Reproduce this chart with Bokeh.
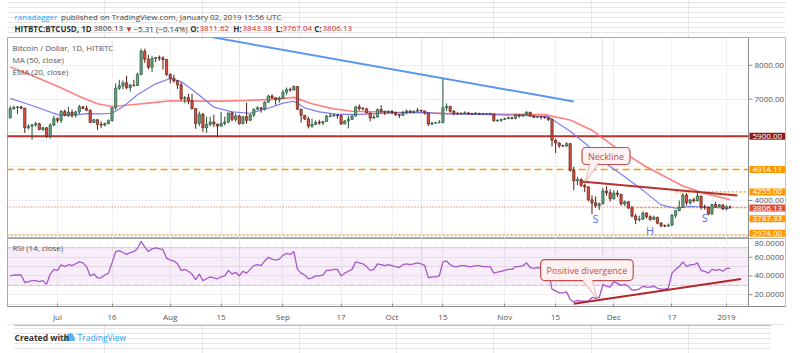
import pandas as pd
from bokeh.plotting import figure
from bokeh.layouts import column
from bokeh.models import (ColumnDataSource, Range1d, FixedTicker, Grid, Span, Label, LinearAxis,
                          BoxAnnotation, PolyAnnotation)
from bokeh.core.properties import value
from bokeh.embed import file_html
from bokeh.resources import INLINE

FONT = "Open Sans"
ORIGIN = pd.Timestamp("2018-07-01")


def to_day(d):
    return (pd.Timestamp(d) - ORIGIN) / pd.Timedelta(days=1)


# ---------------- data ----------------
candle_dates = pd.date_range("2018-06-18", "2019-01-02", freq="D")

opens = [6450, 6720, 6750, 6770, 6730, 6150, 6200, 6240, 6270, 6100, 6150, 5900, 6230,
         6420, 6370, 6630, 6520, 6610, 6540, 6620, 6770, 6720, 6670, 6310, 6390, 6250, 6230, 6270, 6360,
         6740, 7320, 7390, 7480, 7340, 7410, 7400, 7730, 8420, 8180, 7940, 8200, 8230, 8210, 8170,
         7730, 7610, 7540, 7420, 7010, 7040, 6950, 6720, 6280, 6550, 6150, 6250, 6320, 6260, 6200, 6280,
         6320, 6590, 6400, 6500, 6270, 6480, 6370, 6530, 6700, 6740, 6710, 6910, 7090, 7040, 6980,
         7020, 7200, 7280, 7270, 7370, 6700, 6520, 6410, 6200, 6250, 6310, 6290, 6340, 6490, 6500,
         6530, 6510, 6260, 6350, 6400, 6500, 6770, 6720, 6710, 6590, 6440, 6470, 6690, 6640, 6610,
         6640, 6600, 6540, 6520, 6600, 6650, 6610, 6640, 6670, 6650, 6590, 6260, 6290, 6300, 6310, 6740,
         6780, 6640, 6560, 6570, 6580, 6590, 6570, 6560, 6580, 6560, 6560, 6570, 6560, 6360, 6370,
         6400, 6420, 6450, 6430, 6530, 6500, 6540, 6610, 6500, 6460, 6480, 6470, 6450, 6400, 5780,
         5700, 5620, 5610, 5680, 4900, 4580, 4620, 4450, 4400, 4020, 3930, 3850, 3900, 4280, 4230,
         4050, 4220, 4180, 3900, 3960, 3780, 3540, 3430, 3450, 3630, 3520, 3440, 3500, 3330, 3260, 3240,
         3270, 3560, 3700, 3800, 4160, 3930, 4020, 3990, 4130, 3800, 3790, 3600, 3880, 3820, 3870,
         3750, 3811.62]
highs = [6800, 6810, 6790, 6800, 6740, 6250, 6260, 6330, 6300, 6180, 6170, 6290, 6510,
         6450, 6680, 6690, 6770, 6690, 6650, 6830, 6800, 6810, 6690, 6410, 6400, 6340, 6310, 6400, 6760,
         7460, 7570, 7550, 7690, 7450, 7570, 7770, 8490, 8490, 8310, 8280, 8240, 8290, 8270, 8180,
         7760, 7720, 7550, 7500, 7090, 7160, 7150, 6730, 6630, 6590, 6480, 6480, 6540, 6270, 6620, 6480,
         6600, 6630, 6570, 6540, 6490, 6890, 6570, 6720, 6790, 6770, 6930, 7130, 7140, 7060, 7080,
         7270, 7340, 7340, 7410, 7390, 6710, 6530, 6480, 6420, 6370, 6390, 6340, 6530, 6590, 6560,
         6540, 6530, 6380, 6510, 6530, 6790, 6840, 6770, 6740, 6600, 6530, 6720, 6820, 6650, 6660,
         6670, 6630, 6550, 6650, 6690, 6660, 6660, 6740, 6680, 6650, 6590, 6330, 6320, 6380, 7590, 6870,
         6800, 6680, 6620, 6600, 6640, 6620, 6590, 6620, 6590, 6590, 6590, 6590, 6570, 6400, 6420,
         6450, 6480, 6460, 6560, 6550, 6560, 6640, 6620, 6520, 6490, 6500, 6490, 6460, 6420, 5830,
         5720, 5650, 5720, 5700, 5000, 4700, 4660, 4500, 4430, 4150, 4120, 3940, 4370, 4420, 4330,
         4300, 4300, 4200, 4000, 3980, 3840, 3600, 3550, 3680, 3650, 3560, 3550, 3520, 3360, 3290, 3320,
         3600, 3720, 4000, 4220, 4220, 4030, 4080, 4250, 4140, 3880, 3840, 3900, 3960, 3900, 3880,
         3860, 3843.38]
lows = [6420, 6680, 6560, 6700, 6000, 6100, 5800, 6180, 6080, 6050, 5850, 5830, 6200,
        6300, 6290, 6490, 6470, 6450, 6450, 6560, 6700, 6650, 6290, 6290, 6090, 6140, 6190, 6260, 6340,
        6680, 7270, 7290, 7290, 7220, 7370, 7390, 7700, 8070, 7880, 7800, 8090, 8130, 7870, 7690,
        7460, 7480, 7300, 6950, 6880, 6850, 6690, 6120, 6200, 6030, 6000, 6200, 6170, 5880, 6180, 6220,
        6290, 6340, 6330, 6250, 6260, 6270, 6360, 6460, 6680, 6600, 6660, 6890, 6990, 6830, 6890,
        7000, 7130, 7220, 7250, 6680, 6300, 6380, 6130, 6150, 6240, 6240, 6230, 6330, 6460, 6480,
        6420, 6240, 6260, 6130, 6380, 6490, 6660, 6670, 6580, 6340, 6410, 6450, 6590, 6530, 6560,
        6550, 6500, 6440, 6500, 6550, 6580, 6570, 6610, 6610, 6540, 6200, 6230, 6270, 6280, 6280, 6650,
        6600, 6530, 6530, 6540, 6560, 6540, 6530, 6540, 6530, 6530, 6540, 6550, 6330, 6330, 6330,
        6380, 6410, 6400, 6400, 6450, 6480, 6530, 6480, 6440, 6440, 6400, 6420, 6350, 5600, 5400,
        5560, 5580, 5590, 4850, 4300, 4450, 4400, 4250, 3980, 3600, 3780, 3720, 3890, 4140, 3970,
        4030, 4100, 3850, 3840, 3750, 3500, 3300, 3380, 3430, 3470, 3400, 3430, 3300, 3200, 3210, 3230,
        3250, 3480, 3680, 3780, 3850, 3880, 3940, 3980, 3730, 3730, 3560, 3580, 3780, 3800, 3720,
        3710, 3767.04]
closes = [6720, 6750, 6770, 6730, 6150, 6200, 6240, 6270, 6100, 6150, 5900, 6230, 6420,
          6370, 6630, 6520, 6610, 6540, 6620, 6770, 6720, 6670, 6310, 6390, 6250, 6230, 6270, 6360, 6740,
          7320, 7390, 7480, 7340, 7410, 7400, 7730, 8420, 8180, 7940, 8200, 8230, 8210, 8170, 7730,
          7610, 7540, 7420, 7010, 7040, 6950, 6720, 6280, 6550, 6150, 6250, 6320, 6260, 6200, 6280, 6320,
          6590, 6400, 6500, 6270, 6480, 6370, 6530, 6700, 6740, 6710, 6910, 7090, 7040, 6980, 7020,
          7200, 7280, 7270, 7370, 6700, 6520, 6410, 6200, 6250, 6310, 6290, 6340, 6490, 6500, 6530,
          6510, 6260, 6350, 6400, 6500, 6770, 6720, 6710, 6590, 6440, 6470, 6690, 6640, 6610, 6640,
          6600, 6540, 6520, 6600, 6650, 6610, 6640, 6670, 6650, 6590, 6260, 6290, 6300, 6310, 6740, 6780,
          6640, 6560, 6570, 6580, 6590, 6570, 6560, 6580, 6560, 6560, 6570, 6560, 6360, 6370, 6400,
          6420, 6450, 6430, 6530, 6500, 6540, 6610, 6500, 6460, 6480, 6470, 6450, 6400, 5780, 5700,
          5620, 5610, 5680, 4900, 4580, 4620, 4450, 4400, 4020, 3930, 3850, 3900, 4280, 4230, 4050,
          4220, 4180, 3900, 3960, 3780, 3540, 3430, 3450, 3630, 3520, 3440, 3500, 3330, 3260, 3240, 3270,
          3560, 3700, 3800, 4160, 3930, 4020, 3990, 4130, 3800, 3790, 3600, 3880, 3820, 3870, 3750,
          3811.62, 3806.13]

rsi_values = [40, 41, 41, 41, 33, 34, 35, 35, 34, 35, 31, 42, 47,
              46, 52, 50, 52, 51, 53, 55, 54, 50, 40, 42, 38, 38, 41, 43, 54, 66, 67, 65, 63, 65, 66, 69, 77,
              71, 66, 69, 70, 69, 68, 59,
              57, 56, 53, 46, 47, 45, 42, 36, 42, 35, 37, 39, 38, 37, 39, 40, 46, 42, 44, 40, 45, 43, 47, 51,
              52, 51, 56, 60, 58, 57, 58,
              62, 64, 63, 66, 47, 43, 41, 37, 38, 40, 40, 41, 46, 46, 47, 47, 40, 43, 45, 47, 55, 54, 53, 50,
              46, 47, 53, 52, 51, 52,
              51, 50, 49, 52, 53, 52, 53, 54, 53, 51, 38, 39, 39, 40, 55, 56, 52, 50, 50, 51, 51, 50, 50, 51,
              51, 50, 50, 50, 43, 44, 45,
              46, 47, 47, 50, 50, 51, 54, 49, 48, 49, 48, 48, 46, 26, 24, 22, 22, 23, 15, 12, 14, 13, 13, 13,
              17, 16, 17, 31, 29, 28,
              34, 32, 30, 31, 29, 25, 25, 26, 29, 28, 28, 29, 27, 26, 26, 27, 43, 47, 50, 55, 50, 52, 52, 54,
              46, 45, 43, 47, 46, 47, 45,
              48, 48]

ma50_dates = ["2018-06-18", "2018-06-24", "2018-07-01", "2018-07-08", "2018-07-12", "2018-07-16",
              "2018-07-22", "2018-07-26", "2018-08-01", "2018-08-08", "2018-08-15", "2018-08-22",
              "2018-08-29", "2018-09-04", "2018-09-09", "2018-09-15", "2018-09-20", "2018-10-01",
              "2018-10-15", "2018-11-01", "2018-11-12", "2018-11-19", "2018-11-25", "2018-12-01",
              "2018-12-10", "2018-12-20", "2018-12-26", "2019-01-02"]
ma50_values = [7950, 7700, 7380, 7030, 6860, 6780, 6840, 6880, 6950, 6940, 6940, 6960, 6990, 7050,
               6860, 6710, 6640, 6610, 6580, 6550, 6540, 6380, 6080, 5600, 4990, 4430, 4210, 4020]

ema20_dates = ["2018-06-18", "2018-06-24", "2018-07-01", "2018-07-05", "2018-07-09", "2018-07-13",
               "2018-07-16", "2018-07-19", "2018-07-23", "2018-07-28", "2018-08-01", "2018-08-04",
               "2018-08-08", "2018-08-13", "2018-08-18", "2018-08-23", "2018-08-28", "2018-09-01",
               "2018-09-04", "2018-09-07", "2018-09-11", "2018-09-16", "2018-09-22", "2018-10-01",
               "2018-10-10", "2018-10-15", "2018-10-25", "2018-11-05", "2018-11-13", "2018-11-19",
               "2018-11-24", "2018-11-29", "2018-12-04", "2018-12-09", "2018-12-14", "2018-12-18",
               "2018-12-22", "2018-12-27", "2019-01-02"]
ema20_values = [7020, 6810, 6540, 6520, 6570, 6560, 6580, 6770, 7130, 7450, 7610, 7520, 7200, 6760,
                6620, 6580, 6730, 6880, 6935, 6740, 6620, 6550, 6550, 6590, 6610, 6560, 6550, 6520,
                6480, 6050, 5610, 5080, 4700, 4300, 3870, 3770, 3830, 3800, 3770]

tick_dates = ["2018-07-01", "2018-07-16", "2018-08-01", "2018-08-15", "2018-09-01", "2018-09-17",
              "2018-10-01", "2018-10-15", "2018-11-01", "2018-11-15", "2018-12-01", "2018-12-17",
              "2019-01-01"]
tick_labels = ["Jul", "16", "Aug", "15", "Sep", "17", "Oct", "15", "Nov", "15", "Dec", "17", "2019"]

price_grid = [3000, 4000, 5000, 6000, 7000, 8000]
price_ticks = [4000, 7000, 8000]
price_tick_labels = ["4000.00", "7000.00", "8000.00"]
rsi_ticks = [20, 40, 60, 80]
rsi_tick_labels = ["20.0000", "40.0000", "60.0000", "80.0000"]

level_prices = [5900.00, 4914.11, 4255.00, 3806.13, 3787.33, 2974.00]
level_labels = ["5900.00", "4914.11", "4255.00", "3806.13", "3787.33", "2974.00"]
level_starts = ["2018-06-17", "2018-06-17", "2018-12-18", "2018-06-17", "2018-12-05", "2018-06-17"]
level_colors = ["#b5322f", "#ff9800", "#ff9800", "#e0533d", "#ff9800", "#ff9800"]
level_box_colors = ["#8e1b1b", "#ff9800", "#ff9800", "#e0533d", "#ff9800", "#ff9800"]
level_dashes = ["solid", "7 4", "2 2", "1 2", "2 2", "2 2"]
level_widths = [2, 1.5, 1.2, 1, 1.2, 1.2]
level_label_shift = [0, 0, 0, -1, -11, 2]

trend_dates = ["2018-08-12", "2018-11-20"]
trend_prices = [8840, 6928]
neck_dates = ["2018-11-22", "2019-01-04"]
neck_prices = [4560, 4150]
div_dates = ["2018-11-20", "2019-01-05"]
div_rsi = [10.2, 36.8]

shs_text = ["S", "H", "S"]
shs_dates = ["2018-11-26", "2018-12-11", "2018-12-26"]
shs_prices = [3467, 3112, 3497]

# ---------------- layout constants ----------------
X0, X_AXIS, X_END = -13.75, 190.04, 200.22
P0, P1 = 2876, 8821
R0, R1 = 7.37, 80.0
GRID = "#efefef"
TXT = "#555555"
BORDER = "#a8a8a8"
AXIS = "#8c8c8c"

days = [to_day(d) for d in candle_dates]
up = [c >= o for o, c in zip(opens, closes)]
src = ColumnDataSource(dict(
    x=days, low=lows, high=highs,
    top=[max(o, c) for o, c in zip(opens, closes)],
    bottom=[min(o, c) for o, c in zip(opens, closes)],
    fill=["#6ba583" if u else "#d75442" for u in up],
    line=["#225437" if u else "#5b1a13" for u in up],
))
tick_days = [to_day(d) for d in tick_dates]


def base_fig(height, y_range, bottom=0, outline=BORDER):
    f = figure(width=800, height=height, x_range=Range1d(X0, X_END), y_range=y_range,
               output_backend="svg", toolbar_location=None, title=None,
               x_axis_location=None, y_axis_location=None,
               min_border_left=7, min_border_right=15, min_border_top=0, min_border_bottom=bottom,
               background_fill_color="white", border_fill_color="white", outline_line_color=outline)
    return f


def right_scale(f, ticks, labels, shifts):
    """price-scale strip at the right edge of the pane (TradingView style)"""
    f.add_layout(BoxAnnotation(left=X_AXIS, fill_color="white", fill_alpha=1.0, line_alpha=0,
                               level="underlay"))
    f.add_layout(Span(location=X_AXIS, dimension="height", line_color=AXIS, line_width=1))
    f.ray(x=[X_AXIS] * len(ticks), y=ticks, length=4, length_units="screen", angle=0,
          line_color=AXIS, line_width=1)
    f.text(x=[X_AXIS] * len(ticks), y=ticks, text=labels, x_offset=6, y_offset=shifts,
           text_baseline="middle", text_font=value(FONT), text_font_size=value("8px"), text_color=TXT)


def callout(fig, text, cx, cy, base, base_y, tip, size, pad):
    fig.add_layout(Label(x=cx, y=cy, text=text, text_font=FONT, text_font_size=size,
                         text_color="#c0504d", text_align="center", text_baseline="middle",
                         background_fill_color="#fdf1f1", background_fill_alpha=1.0,
                         border_line_color="#c0504d", border_line_width=1.2,
                         padding=pad, border_radius=4))
    fig.add_layout(PolyAnnotation(xs=[base[0], base[1], tip[0]], ys=[base_y, base_y, tip[1]],
                                  fill_color="#fdf1f1", fill_alpha=1.0, line_alpha=0))
    for bx in base:
        fig.add_layout(PolyAnnotation(xs=[bx, tip[0]], ys=[base_y, tip[1]], fill_alpha=0,
                                      line_color="#c0504d", line_width=1.2))


# ---------------- header ----------------
hd = figure(width=800, height=37, x_range=Range1d(0, 800), y_range=Range1d(0, 37),
            output_backend="svg", toolbar_location=None, title=None,
            x_axis_location=None, y_axis_location=None, min_border=0,
            outline_line_color=None, background_fill_color="white", border_fill_color="white")
header1 = [("ranadagger", 7, "#2ea3f2", "normal"),
           ("published on TradingView.com, January 02, 2019 15:56 UTC", 53.5, "#444444", "normal")]
header2 = [("HITBTC:BTCUSD, 1D", 7, "#333333", "bold"), ("3806.13", 86, "#333333", "normal"),
           ("\u25bc", 117.5, "#d12b2b", "normal"), ("\u22125.31 (\u22120.14%)", 126, "#333333", "normal"),
           ("O:", 182.7, "#333333", "bold"), ("3811.62", 192, "#d12b2b", "normal"),
           ("H:", 225.7, "#333333", "bold"), ("3843.38", 235, "#d12b2b", "normal"),
           ("L:", 268.3, "#333333", "bold"), ("3767.04", 275, "#d12b2b", "normal"),
           ("C:", 306.7, "#333333", "bold"), ("3806.13", 315, "#d12b2b", "normal")]
for (txt, xx, col, wt), yy in [(h, 21) for h in header1] + [(h, 9) for h in header2]:
    hd.add_layout(Label(x=xx, y=yy, x_units="screen", y_units="screen", text=txt, text_font=FONT,
                        text_font_size="8px", text_color=col, text_font_style=wt,
                        text_baseline="middle"))

# ---------------- price pane ----------------
pp = base_fig(201, Range1d(P0, P1))
pp.add_layout(Grid(dimension=1, ticker=FixedTicker(ticks=price_grid), grid_line_color=GRID))
pp.add_layout(Grid(dimension=0, ticker=FixedTicker(ticks=tick_days), grid_line_color=GRID))
right_scale(pp, price_ticks, price_tick_labels, [0] * len(price_ticks))

for lp, ls, lc, ld, lw in zip(level_prices, level_starts, level_colors, level_dashes, level_widths):
    pp.segment(x0=[to_day(ls)], y0=[lp], x1=[X_AXIS], y1=[lp], line_color=lc, line_dash=ld, line_width=lw)

pp.line([to_day(d) for d in trend_dates], trend_prices, line_color="#5b95ee", line_width=2)
pp.line([to_day(d) for d in ma50_dates], ma50_values, line_color="#ff6b6b", line_width=1.6, line_alpha=0.85)
pp.line([to_day(d) for d in ema20_dates], ema20_values, line_color="#6f6ff2", line_width=1.2, line_alpha=0.9)

pp.segment(x0="x", y0="low", x1="x", y1="high", line_color="line", line_width=1, source=src)
pp.vbar(x="x", width=0.62, top="top", bottom="bottom", fill_color="fill", line_color="line",
        line_width=0.7, source=src)

pp.line([to_day(d) for d in neck_dates], neck_prices, line_color="#b5332e", line_width=2)

for t, d, prc in zip(shs_text, shs_dates, shs_prices):
    pp.add_layout(Label(x=to_day(d), y=prc, text=t, text_font=FONT, text_font_size="11px",
                        text_color="#5d6fe6", text_align="center", text_baseline="middle"))

callout(pp, "Neckline", to_day("2018-11-28") + 0.85, 5316,
        (to_day("2018-11-24") + 0.4, to_day("2018-11-26") + 0.9), 5110,
        (to_day("2018-11-22") + 1.2, 4541), "9px", dict(x=6, y=2))

for lp, lt, bc, sh in zip(level_prices, level_labels, level_box_colors, level_label_shift):
    pp.add_layout(Label(x=X_AXIS, x_offset=1, y=lp, y_offset=sh, text=lt, text_font=FONT,
                        text_font_size="8px", text_color="white", text_align="left",
                        text_baseline="middle", background_fill_color=bc, background_fill_alpha=1.0,
                        padding=dict(x=3, y=1)))

for txt, yy in zip(["Bitcoin / Dollar, 1D, HITBTC", "MA (50, close)", "EMA (20, close)"], [191, 179, 167]):
    pp.add_layout(Label(x=5, y=yy, x_units="screen", y_units="screen", text=txt, text_font=FONT,
                        text_font_size="8px", text_color="#555555", text_baseline="middle"))

# ---------------- RSI pane ----------------
pr = base_fig(86, Range1d(R0, R1), bottom=17)
pr.add_layout(Grid(dimension=1, ticker=FixedTicker(ticks=rsi_ticks), grid_line_color=GRID))
pr.add_layout(Grid(dimension=0, ticker=FixedTicker(ticks=tick_days), grid_line_color=GRID))
xa = LinearAxis(ticker=FixedTicker(ticks=tick_days),
                major_label_overrides={t: lab for t, lab in zip(tick_days, tick_labels)},
                major_label_text_font=FONT, major_label_text_font_size="8px",
                major_label_text_color=TXT, axis_line_color=AXIS, major_tick_line_color=AXIS,
                minor_tick_line_color=None, major_tick_out=0, major_tick_in=3,
                major_label_standoff=4)
pr.add_layout(xa, "below")

pr.add_layout(BoxAnnotation(bottom=30, top=70, right=X_AXIS, fill_color="#9c27b0", fill_alpha=0.08,
                            line_alpha=0, level="underlay"))
right_scale(pr, rsi_ticks, rsi_tick_labels, [0, 0, 0, 5])
for lv in (70, 30):
    pr.segment(x0=[X0], y0=[lv], x1=[X_AXIS], y1=[lv], line_color="#c4c4c4", line_dash="4 3", line_width=1)
pr.line(days, rsi_values, line_color="#aa55cc", line_width=1.3)
pr.line([to_day(d) for d in div_dates], div_rsi, line_color="#b3262a", line_width=2)

callout(pr, "Positive divergence", to_day("2018-11-24") - 0.4, 46.3,
        (to_day("2018-11-22") + 0.4, to_day("2018-11-25") + 0.1), 35.6,
        (to_day("2018-11-26") + 0.5, 14.7), "9px", dict(x=6, y=4))

pr.add_layout(Label(x=5, y=58.7, x_units="screen", y_units="screen", text="RSI (14, close)",
                    text_font=FONT, text_font_size="8px", text_color="#555555", text_baseline="middle"))

# ---------------- footer ----------------
ft = figure(width=800, height=29, x_range=Range1d(0, 800), y_range=Range1d(0, 29),
            output_backend="svg", toolbar_location=None, title=None,
            x_axis_location=None, y_axis_location=None, min_border=0,
            outline_line_color=None, background_fill_color="white", border_fill_color="white")
ft.add_layout(Span(location=28.5, dimension="width", line_color=BORDER, line_width=1.5))
ft.add_layout(BoxAnnotation(right=7, fill_color="white", fill_alpha=1.0, line_alpha=0))
ft.add_layout(BoxAnnotation(left=785, fill_color="white", fill_alpha=1.0, line_alpha=0))
ft.add_layout(Label(x=7, y=16, x_units="screen", y_units="screen", text="Created with",
                    text_font=FONT, text_font_size="8.5px", text_font_style="bold", text_color="#333333",
                    text_baseline="middle"))
# small cloud-shaped TradingView logo
ft.circle(x=[60.5, 64.5, 67.0], y=[15.5, 17.0, 15.0], radius=[2.6, 3.4, 2.4],
          fill_color="#5ab4f0", line_alpha=0)
ft.quad(left=[57.8], right=[69.2], bottom=[12.4], top=[15.5], fill_color="#5ab4f0", line_alpha=0)
ft.add_layout(Label(x=70, y=16, x_units="screen", y_units="screen", text="TradingView",
                    text_font=FONT, text_font_size="8.5px", text_color="#2ea3f2",
                    text_baseline="middle"))

layout = column(hd, pp, pr, ft, spacing=0)
open("out.html", "w").write(file_html(layout, INLINE))
